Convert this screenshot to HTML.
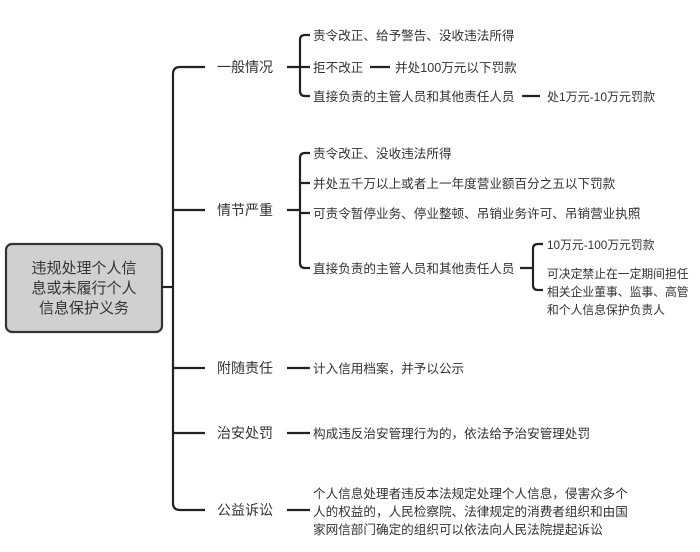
<!DOCTYPE html>
<html><head><meta charset="utf-8"><style>
html,body{margin:0;padding:0;background:#fff;}
svg text{font-family:"Liberation Sans","Noto Sans CJK SC",sans-serif;fill:#333;}
.l{fill:none;stroke:#222;stroke-width:2.2;}
</style></head><body>
<svg width="700" height="547" viewBox="0 0 700 547" xmlns="http://www.w3.org/2000/svg">
<rect x="6" y="244" width="156" height="88" rx="6" fill="#d0d0d0" stroke="#333" stroke-width="2.2"/>
<g font-size="15" text-anchor="middle">
<text x="84" y="273">违规处理个人信</text>
<text x="84" y="293">息或未履行个人</text>
<text x="84" y="313">信息保护义务</text>
</g>
<path class="l" d="M162 287H173"/>
<path class="l" d="M205 67H180Q173 67 173 74V503Q173 510 180 510H205"/>
<path class="l" d="M173 210H205M173 368H205M173 433H205"/>
<g font-size="14">
<text x="217" y="72">一般情况</text>
<text x="217" y="215">情节严重</text>
<text x="217" y="373">附随责任</text>
<text x="217" y="438">治安处罚</text>
<text x="217" y="515">公益诉讼</text>
</g>
<!-- 一般情况 -->
<path class="l" d="M287 67H300M310 35H305Q300 35 300 40V91Q300 96 305 96H310M300 67H310"/>
<g font-size="12.6">
<text x="313" y="40">责令改正、给予警告、没收违法所得</text>
<text x="313" y="72">拒不改正</text>
<text x="395" y="72">并处100万元以下罚款</text>
<text x="313" y="101">直接负责的主管人员和其他责任人员</text>
</g>
<text x="547" y="101" font-size="12">处1万元-10万元罚款</text>
<path class="l" d="M370 67H390M522 96H540"/>
<!-- 情节严重 -->
<path class="l" d="M287 210H300M310 153H305Q300 153 300 158V263Q300 268 305 268H310M300 183H310M300 213H310"/>
<g font-size="12.6">
<text x="313" y="158">责令改正、没收违法所得</text>
<text x="313" y="188">并处五千万以上或者上一年度营业额百分之五以下罚款</text>
<text x="313" y="218">可责令暂停业务、停业整顿、吊销业务许可、吊销营业执照</text>
<text x="313" y="273">直接负责的主管人员和其他责任人员</text>
</g>
<g font-size="11.8">
<text x="547" y="249">10万元-100万元罚款</text>
<text x="547" y="278">可决定禁止在一定期间担任</text>
<text x="547" y="296">相关企业董事、监事、高管</text>
<text x="547" y="314">和个人信息保护负责人</text>
</g>
<path class="l" d="M520 268H533M543 244H538Q533 244 533 249V285Q533 290 538 290H543"/>
<!-- others -->
<path class="l" d="M287 368H310M287 433H310M287 510H310"/>
<g font-size="12.6">
<text x="313" y="373">计入信用档案，并予以公示</text>
<text x="313" y="438">构成违反治安管理行为的，依法给予治安管理处罚</text>
<text x="313" y="498">个人信息处理者违反本法规定处理个人信息，侵害众多个</text>
<text x="313" y="516">人的权益的，人民检察院、法律规定的消费者组织和由国</text>
<text x="313" y="534">家网信部门确定的组织可以依法向人民法院提起诉讼</text>
</g>
</svg>
</body></html>
